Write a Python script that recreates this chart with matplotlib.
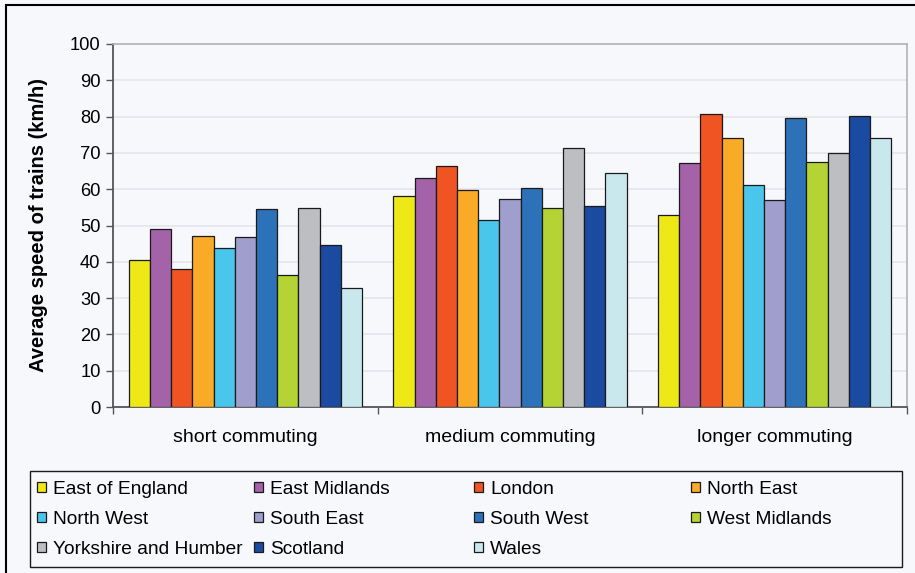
import matplotlib
matplotlib.use('Agg')
import matplotlib.pyplot as plt
from matplotlib.patches import Rectangle, Patch
import numpy as np

plt.rcParams['font.family'] = ['Liberation Sans', 'DejaVu Sans']

categories = ['short commuting', 'medium commuting', 'longer commuting']
regions = ['East of England', 'East Midlands', 'London', 'North East',
           'North West', 'South East', 'South West', 'West Midlands',
           'Yorkshire and Humber', 'Scotland', 'Wales']
colors = ['#EEE916', '#A463A8', '#F05423', '#F9AA26', '#4AC6EC', '#A09ECD',
          '#2D72B8', '#B5D334', '#BDBEC2', '#1B4BA0', '#C8E8EE']

# average speed (km/h) per region, one value per commuting category
speeds = {
    'East of England':      [40.5, 58.2, 52.8],
    'East Midlands':        [49.1, 63.2, 67.2],
    'London':               [38.0, 66.4, 80.7],
    'North East':           [47.0, 59.8, 74.2],
    'North West':           [43.7, 51.6, 61.1],
    'South East':           [46.7, 57.4, 56.9],
    'South West':           [54.5, 60.2, 79.5],
    'West Midlands':        [36.4, 54.9, 67.6],
    'Yorkshire and Humber': [54.9, 71.3, 70.1],
    'Scotland':             [44.5, 55.3, 80.3],
    'Wales':                [32.7, 64.4, 74.2],
}

W, H = 915, 573
bg = '#F7F8FC'
fig = plt.figure(figsize=(W / 100, H / 100), dpi=100, facecolor=bg)
ax = fig.add_axes([113 / W, 1 - 407 / H, 794 / W, 363 / H])
ax.set_facecolor(bg)

x = np.arange(len(categories))
n = len(regions)
width = 0.881 / n
for j, name in enumerate(regions):
    ax.bar(x + (j - (n - 1) / 2) * width, speeds[name], width,
           color=colors[j], edgecolor='#1a1a1a', linewidth=0.9, zorder=3)

ax.set_xlim(-0.5, len(categories) - 0.5)
ax.set_ylim(0, 100)
ax.set_yticks(np.arange(0, 101, 10))
ax.yaxis.grid(True, color='#E4E5EA', linewidth=1.2, zorder=0)
ax.tick_params(axis='y', direction='out', length=5, width=1, color='#555555',
               labelsize=13.2, pad=4)

# category labels sit between the boundary ticks
ax.set_xticks(np.arange(-0.5, len(categories)))
ax.set_xticklabels([])
ax.set_xticks(x, minor=True)
ax.set_xticklabels(categories, minor=True)
ax.tick_params(axis='x', which='major', direction='out', length=5, width=1,
               color='#555555')
ax.tick_params(axis='x', which='minor', length=0, labelsize=14, pad=16)

for s in ['left', 'bottom']:
    ax.spines[s].set_color('#555555')
    ax.spines[s].set_linewidth(1.3)
for s in ['top', 'right']:
    ax.spines[s].set_color('#B3B3B3')
    ax.spines[s].set_linewidth(1.2)

ax.set_ylabel('Average speed of trains (km/h)', fontsize=14.5, fontweight='bold')
ax.yaxis.set_label_coords((48 - 113) / 794, 0.5)

# legend: four columns placed like the original, with one shared frame
col_x = [37, 254, 474, 691]
cols = [[0, 4, 8], [1, 5, 9], [2, 6, 10], [3, 7]]
for cx, idx in zip(col_x, cols):
    handles = [Patch(facecolor=colors[i], edgecolor='#1a1a1a', linewidth=0.9)
               for i in idx]
    leg = fig.legend(handles, [regions[i] for i in idx], ncol=1,
                     loc='upper left', bbox_to_anchor=(cx / W, 1 - 480.5 / H),
                     fontsize=13.8, frameon=False, handlelength=0.45,
                     handleheight=0.45, handletextpad=0.4, labelspacing=0.68,
                     borderaxespad=0, borderpad=0)
fig.patches.append(Rectangle((30 / W, 1 - 567 / H), 872 / W, 96 / H,
                             transform=fig.transFigure, fill=False,
                             edgecolor='#1a1a1a', linewidth=1.0))

# outer frame of the chart
fig.patches.append(Rectangle((6 / W, -0.05), 1.1, 1 - 5 / H + 0.05,
                             transform=fig.transFigure, fill=False,
                             edgecolor='black', linewidth=1.5))

fig.savefig('out.png', dpi=100, facecolor=bg)
